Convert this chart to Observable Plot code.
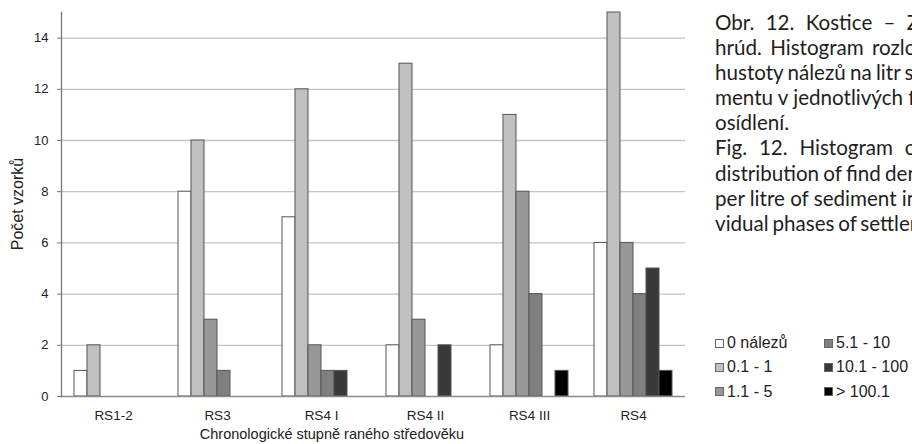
<!DOCTYPE html>
<html>
<head>
<meta charset="utf-8">
<script src="https://cdn.jsdelivr.net/npm/d3@7"></script>
<script src="https://cdn.jsdelivr.net/npm/@observablehq/plot@0.6"></script>
<style>
  body { margin: 0; background: #fff; }
  #page { position: relative; width: 912px; height: 444px; overflow: hidden; background: #fff;
          font-family: "Liberation Sans", Arial, sans-serif; color: #222; }
  #chart { position: absolute; left: 0; top: 0; }
  .ytitle { position: absolute; left: 18px; top: 204px; font-size: 16px; line-height: 1;
            white-space: nowrap; transform: translate(-50%, -50%) rotate(-90deg); }
  .xtitle { position: absolute; left: 332px; top: 427px; font-size: 14.5px; line-height: 1;
            white-space: nowrap; transform: translateX(-50%); }
  #legend { position: absolute; left: 715px; top: 331px; font-size: 16px; line-height: 24px; }
  #legend .item { position: absolute; white-space: nowrap; display: flex; align-items: center; }
  #legend .swatch { width: 7px; height: 7px; border: 1px solid #666; margin-right: 3px; }
  #caption { position: absolute; left: 715px; top: 9.5px; font-family: Lato, "Open Sans", sans-serif;
             font-size: 20.6px; color: #1e1e1e; }
  #caption div { height: 25.2px; line-height: 25.2px; white-space: nowrap; }
</style>
</head>
<body>
<div id="page">
  <div id="chart"></div>
  <div class="ytitle">Počet vzorků</div>
  <div class="xtitle">Chronologické stupně raného středověku</div>
  <div id="legend"></div>
  <div id="caption"></div>
</div>
<script>
// Chronological phases of the early medieval settlement
const phases = ["RS1-2", "RS3", "RS4 I", "RS4 II", "RS4 III", "RS4"];

// Density classes (finds per litre of sediment) and their fills
const densityClasses = ["0 nálezů", "0.1 - 1", "1.1 - 5", "5.1 - 10", "10.1 - 100", "> 100.1"];
const classColors = ["#ffffff", "#c0c0c0", "#979797", "#808080", "#393939", "#000000"];

// Number of samples per phase, one array per density class
const noFinds    = [1, 8, 7, 2, 2, 6];
const dens01to1  = [2, 10, 12, 13, 11, 15];
const dens1to5   = [0, 3, 2, 3, 8, 6];
const dens5to10  = [0, 1, 1, 0, 4, 4];
const dens10to100 = [0, 0, 1, 2, 0, 5];
const densOver100 = [0, 0, 0, 0, 1, 1];

const yTicks = [0, 2, 4, 6, 8, 10, 12, 14];

// Caption lines (Czech and English) with the word spacing of the justified column
const captionLines = [
  ["Obr. 12. Kostice – Zadní", 6],
  ["hrúd. Histogram rozložení", 3],
  ["hustoty nálezů na litr sedi-", -1],
  ["mentu v jednotlivých fázích", 0],
  ["osídlení.", 0],
  ["Fig. 12. Histogram of the", 6.5],
  ["distribution of find density", -1],
  ["per litre of sediment in indi-", 0],
  ["vidual phases of settlement.", -1.5]
];

const seriesValues = [noFinds, dens01to1, dens1to5, dens5to10, dens10to100, densOver100];
const rows = [];
densityClasses.forEach((cls, i) => {
  phases.forEach((phase, j) => {
    const count = seriesValues[i][j];
    if (count > 0) rows.push({phase, cls, count});
  });
});

const chart = Plot.plot({
  width: 700,
  height: 444,
  marginLeft: 59,
  marginRight: 13,
  marginTop: 12,
  marginBottom: 48,
  style: {fontFamily: '"Liberation Sans", Arial, sans-serif', fontSize: "13px", color: "#222", background: "transparent"},
  fx: {domain: phases, padding: 0, label: null},
  x: {domain: densityClasses, paddingInner: 0, paddingOuter: 0.74, axis: null},
  y: {domain: [0, 15], label: null},
  color: {domain: densityClasses, range: classColors},
  marks: [
    Plot.ruleY(yTicks.filter(d => d > 0), {stroke: "#c4c4c4", strokeWidth: 1.3}),
    Plot.barY(rows, {fx: "phase", x: "cls", y: "count", fill: "cls", stroke: "#555", strokeWidth: 1}),
    Plot.ruleY([0], {stroke: "#8a8a8a", strokeWidth: 1.3}),
    Plot.frame({anchor: "left", facetAnchor: "left", stroke: "#777", strokeWidth: 1.3}),
    Plot.axisY({ticks: yTicks, tickSize: 4, tickPadding: 9, label: null, fontSize: 13, stroke: "#777", fill: "#222"}),
    Plot.axisFx({anchor: "bottom", tickSize: 0, tickPadding: 14, label: null, fontSize: 13.5, fill: "#222"})
  ]
});
document.getElementById("chart").append(chart);

// Legend: two columns of three entries
const legend = d3.select("#legend");
densityClasses.forEach((cls, i) => {
  const col = Math.floor(i / 3), row = i % 3;
  const item = legend.append("div").attr("class", "item")
    .style("left", `${col * 109}px`).style("top", `${row * 24.3}px`);
  item.append("div").attr("class", "swatch").style("background", classColors[i]);
  item.append("span").text(cls);
});

// Caption
const caption = d3.select("#caption");
captionLines.forEach(([text, spacing]) => {
  caption.append("div").style("word-spacing", `${spacing}px`).text(text);
});
</script>
</body>
</html>
